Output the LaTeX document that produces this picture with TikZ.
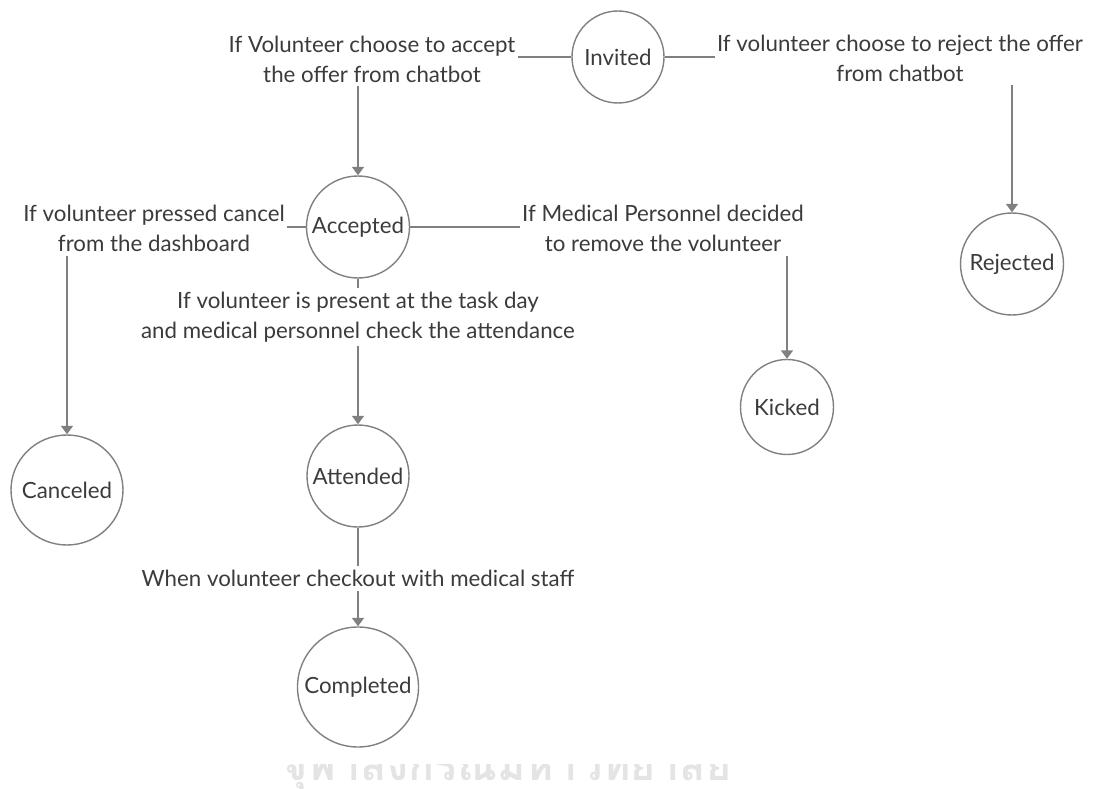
\documentclass[tikz,border=0pt]{standalone}
\usepackage{fontspec}
\setmainfont{Lato}
\newfontfamily\thaifont[Script=Thai]{Loma}
\usetikzlibrary{arrows.meta,shapes.geometric}
\definecolor{edge}{HTML}{808080}
\definecolor{ink}{HTML}{3B3B3B}
\definecolor{wmark}{HTML}{E4E4E4}
\begin{document}
\begin{tikzpicture}[x=1pt,y=-1pt,
  stext/.style={text=ink,inner sep=0pt,font=\fontsize{22.3}{30}\selectfont},
  state/.style={ellipse,draw=edge,line width=1.4pt,inner sep=0pt,
    label={[stext]center:#1}},
  cond/.style={align=center,text=ink,inner xsep=2pt,inner ysep=4pt,
    font=\fontsize{22.3}{30}\selectfont},
  link/.style={draw=edge,line width=1.6pt},
  flow/.style={link,-{Triangle[width=12pt,length=8.5pt]}}]
\useasboundingbox (0,0) rectangle (1093,789);

% university watermark along the lower edge
\begin{scope}
  \clip (0,764) rectangle (1093,789);
  \node[anchor=base west,inner sep=0pt,text=wmark,
    font=\thaifont\bfseries\fontsize{43}{43}\selectfont] (wm) at (282,780)
    {จุฬาลงกรณ์มหาวิทยาลัย};
\end{scope}

% states (circles sized to hug their names)
\node[state=Invited,  minimum width=92pt, minimum height=92pt]  (inv)  at (618,57)  {};
\node[state=Accepted, minimum width=103pt,minimum height=102pt] (acc)  at (358,227) {};
\node[state=Rejected, minimum width=103pt,minimum height=102pt] (rej)  at (1012,264) {};
\node[state=Canceled, minimum width=112pt,minimum height=110pt] (can)  at (67,490)  {};
\node[state=Kicked,   minimum width=93pt, minimum height=95pt]  (kick) at (787,407) {};
\node[state=Attended, minimum width=102pt,minimum height=102pt] (att)  at (358,476) {};
\node[state=Completed,minimum width=121pt,minimum height=120pt] (comp) at (358,687) {};

% transition conditions
\node[cond] (cAcc)  at (372,59)  {If Volunteer choose to accept\\the offer from chatbot};
\node[cond] (cRej)  at (900,58)  {If volunteer choose to reject the offer\\from chatbot};
\node[cond] (cCan)  at (154,228) {If volunteer pressed cancel\\from the dashboard};
\node[cond] (cKick) at (663,228) {If Medical Personnel decided\\to remove the volunteer};
\node[cond] (cAtt)  at (358,317) {If volunteer is present at the task day\\and medical personnel check the attendance};
\node[cond] (cComp) at (358,578) {When volunteer checkout with medical staff};

% connectors
\draw[link] (inv.west) -- (cAcc.east |- inv.west);
\draw[flow] (acc.north |- cAcc.south) -- (acc.north);
\draw[link] (inv.east) -- (cRej.west |- inv.east);
\draw[flow] (rej.north |- cRej.south) -- (rej.north);
\draw[link] (acc.west) -- (cCan.east |- acc.west);
\draw[flow] (can.north |- cCan.south) -- (can.north);
\draw[link] (acc.east) -- (cKick.west |- acc.east);
\draw[flow] (kick.north |- cKick.south) -- (kick.north);
\draw[link] (acc.south) -- (cAtt.north);
\draw[flow] (cAtt.south) -- (att.north);
\draw[link] (att.south) -- (cComp.north);
\draw[flow] (cComp.south) -- (comp.north);
\end{tikzpicture}
\end{document}
